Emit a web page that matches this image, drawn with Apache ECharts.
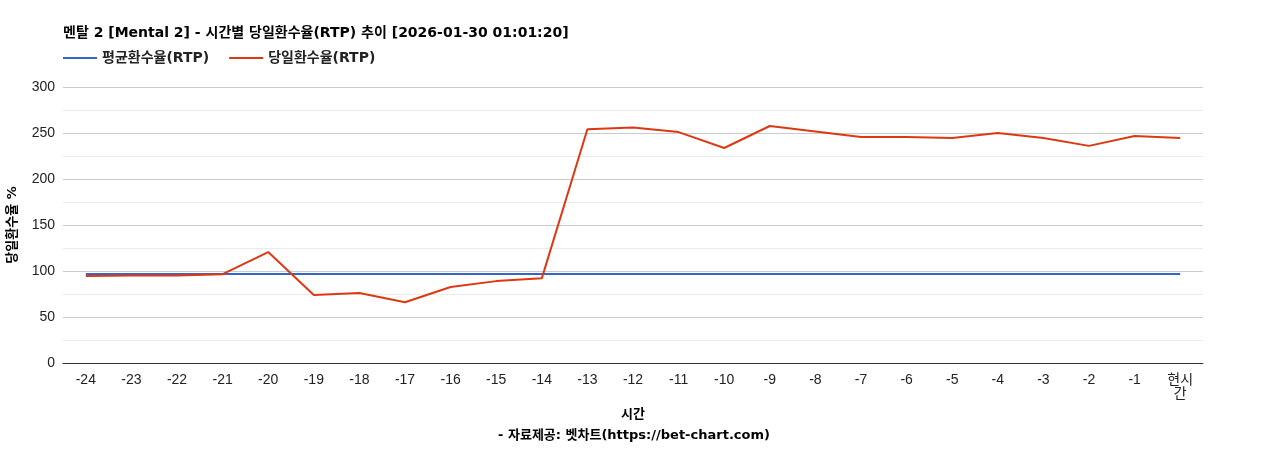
<!DOCTYPE html>
<html>
<head>
<meta charset="utf-8">
<script src="https://cdn.jsdelivr.net/npm/echarts@6/dist/echarts.min.js"></script>
<style>
html,body{margin:0;padding:0;background:#fff;}
#chart{width:1268px;height:450px;}
</style>
</head>
<body>
<div id="chart"></div>
<script>
var categories = ['-24','-23','-22','-21','-20','-19','-18','-17','-16','-15','-14','-13','-12','-11','-10','-9','-8','-7','-6','-5','-4','-3','-2','-1','현시\n간'];
var avgRtp = [96.7,96.7,96.7,96.7,96.7,96.7,96.7,96.7,96.7,96.7,96.7,96.7,96.7,96.7,96.7,96.7,96.7,96.7,96.7,96.7,96.7,96.7,96.7,96.7,96.7];
var dayRtp = [94.6,95,95.2,96.5,120.6,73.9,76,66,82.6,89,92,254,256,251,233.7,257.6,251.6,245.6,245.6,244.6,250,244.6,236,246.7,244.6];
var fontFam = '"Liberation Sans", Arial, "Noto Sans CJK KR", sans-serif';
var boldFam = '"DejaVu Sans", "Noto Sans CJK KR", sans-serif';

var chart = echarts.init(document.getElementById('chart'));
chart.setOption({
	animation: false,
	textStyle: {fontFamily: fontFam},
	title: {
		text: '멘탈 2 [Mental 2] - 시간별 당일환수율(RTP) 추이 [2026-01-30 01:01:20]',
		left: 58, top: 21,
		textStyle: {fontSize: 14, fontWeight: 'bold', color: '#000', fontFamily: boldFam}
	},
	legend: {
		left: 58, top: 46,
		itemWidth: 34, itemHeight: 2, itemGap: 20,
		icon: 'rect',
		textStyle: {fontSize: 14, fontWeight: 'bold', color: '#222', fontFamily: boldFam},
		data: ['평균환수율(RTP)', '당일환수율(RTP)']
	},
	graphic: [{
		type: 'text', left: 'center', top: 429,
		style: {text: '- 자료제공: 벳차트(https://bet-chart.com)', font: 'bold 13px ' + boldFam, fill: '#000'}
	}, {
		type: 'text', left: 6, top: 'middle', rotation: Math.PI / 2,
		style: {text: '당일환수율 %', font: 'bold 13px ' + boldFam, fill: '#000'}
	}],
	grid: {left: 63, right: 65, top: 87, bottom: 87},
	xAxis: {
		type: 'category', data: categories, boundaryGap: true,
		name: '시간', nameLocation: 'middle', nameGap: 45,
		nameTextStyle: {fontSize: 13, fontWeight: 'bold', color: '#000', fontFamily: boldFam},
		axisLine: {lineStyle: {color: '#333'}},
		axisTick: {show: false},
		axisLabel: {color: '#222', fontSize: 14, interval: 0, margin: 10}
	},
	yAxis: {
		type: 'value', min: 0, max: 300, interval: 25,
		axisLine: {show: false}, axisTick: {show: false},
		axisLabel: {color: '#222', fontSize: 14, formatter: function(v){ return v % 50 === 0 ? v : ''; }},
		splitLine: {lineStyle: {color: ['#ccc', '#ebebeb']}}
	},
	series: [{
		name: '평균환수율(RTP)', type: 'line', data: avgRtp,
		symbol: 'none', lineStyle: {color: '#3366cc', width: 2}, itemStyle: {color: '#3366cc'}
	}, {
		name: '당일환수율(RTP)', type: 'line', data: dayRtp,
		symbol: 'none', lineStyle: {color: '#dc3912', width: 2}, itemStyle: {color: '#dc3912'}
	}]
});
</script>
</body>
</html>
